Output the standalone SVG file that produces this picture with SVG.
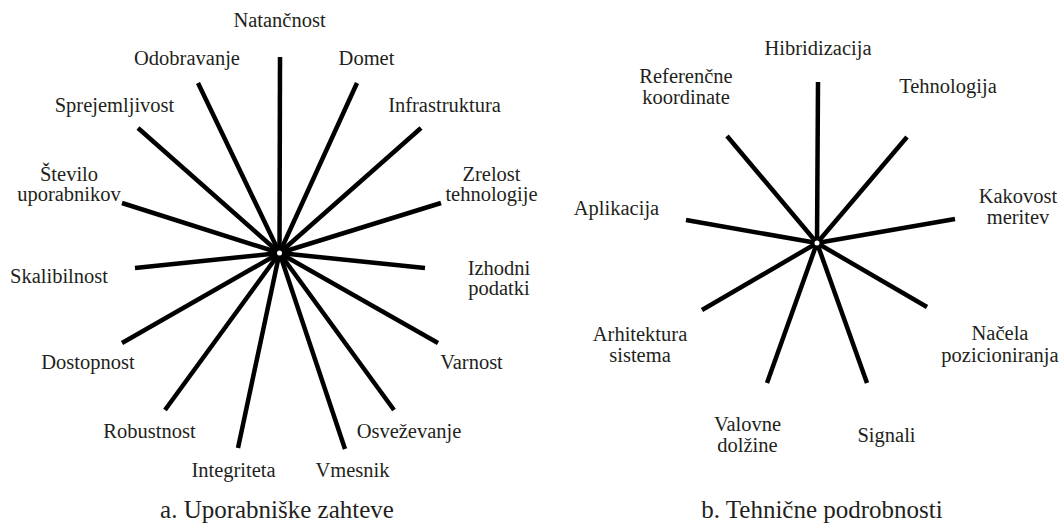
<svg xmlns="http://www.w3.org/2000/svg" width="1059" height="524" viewBox="0 0 1059 524">
<style>
text{font-family:"Liberation Serif","Times New Roman","DejaVu Serif",serif;font-size:20.5px;fill:#231f20;text-anchor:middle}
text.cap{font-size:25px}
.sp line{stroke:#000;stroke-width:4.5;stroke-linecap:butt}
.hub{fill:#fff;stroke:#000;stroke-width:2}
</style>
<rect width="1059" height="524" fill="#fff"/>
<g id="connectors" class="sp">
<g id="conn-left">
<line x1="279.5" y1="253" x2="280" y2="57"/>
<line x1="279.5" y1="253" x2="357" y2="83"/>
<line x1="279.5" y1="253" x2="198" y2="83"/>
<line x1="279.5" y1="253" x2="138" y2="128"/>
<line x1="279.5" y1="253" x2="421" y2="128"/>
<line x1="279.5" y1="253" x2="122" y2="203"/>
<line x1="279.5" y1="253" x2="441" y2="203"/>
<line x1="279.5" y1="253" x2="135" y2="268"/>
<line x1="279.5" y1="253" x2="425" y2="268"/>
<line x1="279.5" y1="253" x2="122" y2="343"/>
<line x1="279.5" y1="253" x2="438" y2="343"/>
<line x1="279.5" y1="253" x2="165" y2="410"/>
<line x1="279.5" y1="253" x2="394" y2="410"/>
<line x1="279.5" y1="253" x2="238" y2="448"/>
<line x1="279.5" y1="253" x2="345" y2="449"/>
</g>
<g id="conn-right">
<line x1="817" y1="243" x2="818" y2="82"/>
<line x1="817" y1="243" x2="907" y2="137"/>
<line x1="817" y1="243" x2="955" y2="219"/>
<line x1="817" y1="243" x2="927" y2="307"/>
<line x1="817" y1="243" x2="867" y2="383"/>
<line x1="817" y1="243" x2="767" y2="383"/>
<line x1="817" y1="243" x2="702" y2="310"/>
<line x1="817" y1="243" x2="686" y2="220"/>
<line x1="817" y1="243" x2="727" y2="136"/>
</g>
</g>
<g id="hub-left"><circle class="hub" cx="279.5" cy="253" r="3.5"/></g>
<g id="hub-right"><circle class="hub" cx="817" cy="243" r="3.5"/></g>
<g id="n-natancnost"><text x="279.5" y="27">Natančnost</text></g>
<g id="n-odobravanje"><text x="187" y="65">Odobravanje</text></g>
<g id="n-domet"><text x="366.5" y="65">Domet</text></g>
<g id="n-sprejemljivost"><text x="114.5" y="112">Sprejemljivost</text></g>
<g id="n-infrastruktura"><text x="444.5" y="112">Infrastruktura</text></g>
<g id="n-stevilo"><text x="69" y="180.5">Število</text><text x="69" y="200.5">uporabnikov</text></g>
<g id="n-zrelost"><text x="491.5" y="181">Zrelost</text><text x="491.5" y="201">tehnologije</text></g>
<g id="n-skalibilnost"><text x="59" y="283">Skalibilnost</text></g>
<g id="n-izhodni"><text x="499" y="274.5">Izhodni</text><text x="499" y="294.5">podatki</text></g>
<g id="n-dostopnost"><text x="88" y="369">Dostopnost</text></g>
<g id="n-varnost"><text x="471.5" y="369">Varnost</text></g>
<g id="n-robustnost"><text x="149.5" y="438">Robustnost</text></g>
<g id="n-osvezevanje"><text x="409" y="438">Osveževanje</text></g>
<g id="n-integriteta"><text x="233.5" y="477">Integriteta</text></g>
<g id="n-vmesnik"><text x="352.5" y="477">Vmesnik</text></g>
<g id="cap-a"><text class="cap" x="277" y="518">a. Uporabniške zahteve</text></g>
<g id="n-hibridizacija"><text x="818" y="55">Hibridizacija</text></g>
<g id="n-referencne"><text x="686" y="83">Referenčne</text><text x="686" y="104">koordinate</text></g>
<g id="n-tehnologija"><text x="948" y="93">Tehnologija</text></g>
<g id="n-aplikacija"><text x="616.5" y="215">Aplikacija</text></g>
<g id="n-kakovost"><text x="1018" y="203">Kakovost</text><text x="1018" y="224">meritev</text></g>
<g id="n-arhitektura"><text x="640" y="341">Arhitektura</text><text x="640" y="362">sistema</text></g>
<g id="n-nacela"><text x="1000" y="340">Načela</text><text x="1000" y="362">pozicioniranja</text></g>
<g id="n-valovne"><text x="747.5" y="431">Valovne</text><text x="747.5" y="452">dolžine</text></g>
<g id="n-signali"><text x="886.5" y="442">Signali</text></g>
<g id="cap-b"><text class="cap" x="822" y="518">b. Tehnične podrobnosti</text></g>
</svg>
